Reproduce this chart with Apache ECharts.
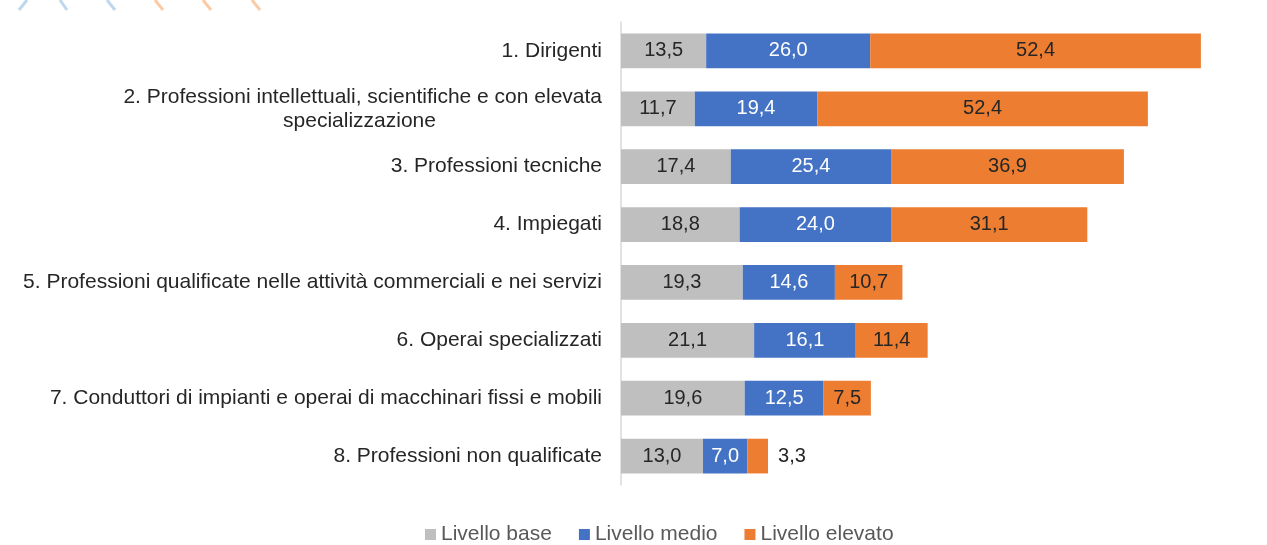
<!DOCTYPE html>
<html>
<head>
<meta charset="utf-8">
<script src="https://cdn.jsdelivr.net/npm/echarts@6/dist/echarts.min.js"></script>
<style>
  html, body { margin: 0; padding: 0; background: #fff; }
  #chart { width: 1267px; height: 545px; }
</style>
</head>
<body>
<div id="chart"></div>
<script>
// categorie (professioni)
var categories = [
  '1. Dirigenti',
  '2. Professioni intellettuali, scientifiche e con elevata\nspecializzazione',
  '3. Professioni tecniche',
  '4. Impiegati',
  '5. Professioni qualificate nelle attività commerciali e nei servizi',
  '6. Operai specializzati',
  '7. Conduttori di impianti e operai di macchinari fissi e mobili',
  '8. Professioni non qualificate'
];
var livelloBase = [13.5, 11.7, 17.4, 18.8, 19.3, 21.1, 19.6, 13.0];
var livelloMedio = [26.0, 19.4, 25.4, 24.0, 14.6, 16.1, 12.5, 7.0];
var livelloElevato = [52.4, 52.4, 36.9, 31.1, 10.7, 11.4, 7.5, 3.3];

var fmt = function (p) { return p.value.toFixed(1).replace('.', ','); };

function serie(name, values, color, labelColor) {
  return {
    name: name,
    type: 'bar',
    stack: 'tot',
    barCategoryGap: '40%',
    itemStyle: { color: color },
    label: {
      show: true,
      position: 'inside',
      formatter: fmt,
      color: labelColor,
      fontSize: 20,
      fontFamily: 'Liberation Sans'
    },
    data: values.map(function (v) {
      // valori troppo piccoli: etichetta fuori dalla barra
      if (v < 5) return { value: v, label: { position: 'right', distance: 10, color: '#262626' } };
      return v;
    })
  };
}

window.onload = function () {
  var chart = echarts.init(document.getElementById('chart'));
  chart.setOption({
    animation: false,
    textStyle: { fontFamily: 'Liberation Sans' },
    grid: { left: 621, right: 15, top: 22, bottom: 60, containLabel: false },
    legend: {
      left: 420,
      top: 519,
      itemWidth: 11,
      itemHeight: 11,
      itemGap: 27,
      icon: 'rect',
      textStyle: { color: '#595959', fontSize: 21, fontFamily: 'Liberation Sans' },
      data: ['Livello base', 'Livello medio', 'Livello elevato']
    },
    xAxis: {
      type: 'value',
      min: 0,
      max: 100,
      show: false
    },
    yAxis: {
      type: 'category',
      inverse: true,
      data: categories,
      axisTick: { show: false },
      axisLine: { lineStyle: { color: '#D9D9D9', width: 1.5 } },
      axisLabel: {
        margin: 19,
        color: '#262626',
        fontSize: 21,
        lineHeight: 24,
        fontFamily: 'Liberation Sans',
        formatter: function (v) {
          var parts = v.split('\n');
          if (parts.length === 1) return v;
          return parts[0] + '\n{c|' + parts[1] + '}';
        },
        rich: {
          c: { width: 485, align: 'center', fontSize: 21, lineHeight: 24, color: '#262626', fontFamily: 'Liberation Sans' }
        }
      }
    },
    graphic: [
      { type: 'line', shape: { x1: 27, y1: 0, x2: 19, y2: 10 }, style: { stroke: '#BDD7EE', lineWidth: 3 } },
      { type: 'line', shape: { x1: 60, y1: 0, x2: 67, y2: 10 }, style: { stroke: '#BDD7EE', lineWidth: 3 } },
      { type: 'line', shape: { x1: 107, y1: 0, x2: 115, y2: 10 }, style: { stroke: '#BDD7EE', lineWidth: 3 } },
      { type: 'line', shape: { x1: 155, y1: 0, x2: 163, y2: 10 }, style: { stroke: '#FBCBA5', lineWidth: 3 } },
      { type: 'line', shape: { x1: 203, y1: 0, x2: 211, y2: 10 }, style: { stroke: '#FBCBA5', lineWidth: 3 } },
      { type: 'line', shape: { x1: 252, y1: 0, x2: 260, y2: 10 }, style: { stroke: '#FBCBA5', lineWidth: 3 } }
    ],
    series: [
      serie('Livello base', livelloBase, '#BFBFBF', '#262626'),
      serie('Livello medio', livelloMedio, '#4472C4', '#FFFFFF'),
      serie('Livello elevato', livelloElevato, '#ED7D31', '#262626')
    ]
  });
};
</script>
</body>
</html>
